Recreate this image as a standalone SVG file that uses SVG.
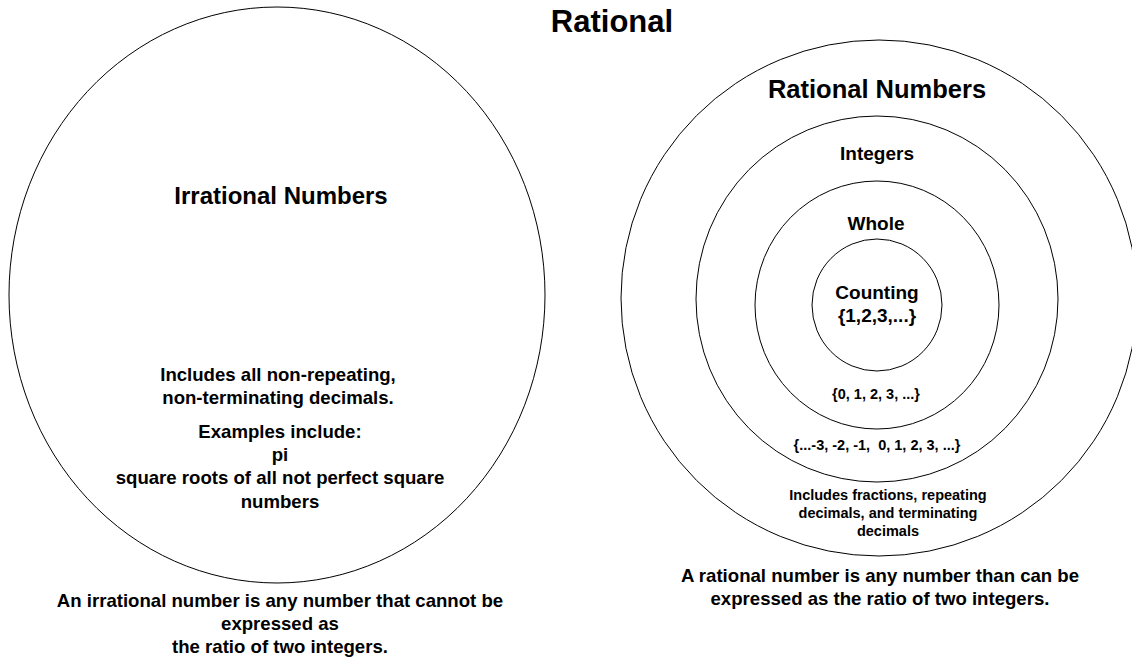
<svg xmlns="http://www.w3.org/2000/svg" width="1132" height="660" viewBox="0 0 1132 660">
<style>
.c{fill:none;stroke:#000;stroke-width:1}
text{font-family:"Liberation Sans",Arial,sans-serif;font-weight:bold;fill:#000;text-anchor:middle}
.t{font-size:31px}
.h{font-size:25.5px}
.m{font-size:19px}
.s{font-size:14.5px;white-space:pre}
.b{font-size:18.6px}
</style>
<rect width="1132" height="660" fill="#fff"/>
<g id="title"><text class="t" x="612" y="32">Rational</text></g>
<g id="irrational">
<ellipse class="c" cx="277" cy="295" rx="268" ry="288"/>
<text class="h" x="281" y="204" style="font-size:24px">Irrational Numbers</text>
<text class="b" x="278" y="381">Includes all non-repeating,</text>
<text class="b" x="278" y="404">non-terminating decimals.</text>
<text class="b" x="280" y="438">Examples include:</text>
<text class="b" x="280" y="461">pi</text>
<text class="b" x="280" y="484">square roots of all not perfect square</text>
<text class="b" x="280" y="508">numbers</text>
</g>
<g id="rational">
<ellipse class="c" cx="879" cy="298" rx="258" ry="258"/>
<text class="h" x="877" y="98">Rational Numbers</text>
<text class="s" x="888" y="500">Includes fractions, repeating</text>
<text class="s" x="888" y="518">decimals, and terminating</text>
<text class="s" x="888" y="536">decimals</text>
</g>
<g id="integers">
<ellipse class="c" cx="877" cy="299" rx="181" ry="183"/>
<text class="m" x="877" y="160">Integers</text>
<text class="s" x="877" y="450">{...-3, -2, -1,  0, 1, 2, 3, ...}</text>
</g>
<g id="whole">
<ellipse class="c" cx="877" cy="305" rx="122" ry="124"/>
<text class="m" x="876" y="230">Whole</text>
<text class="s" x="876" y="399">{0, 1, 2, 3, ...}</text>
</g>
<g id="counting">
<ellipse class="c" cx="877" cy="305" rx="65" ry="66"/>
<text class="m" x="877" y="299">Counting</text>
<text class="m" x="877" y="322">{1,2,3,...}</text>
</g>
<g id="captions">
<text class="b" x="280" y="607">An irrational number is any number that cannot be</text>
<text class="b" x="280" y="630">expressed as</text>
<text class="b" x="280" y="653">the ratio of two integers.</text>
<text class="b" x="880" y="582">A rational number is any number than can be</text>
<text class="b" x="880" y="605">expressed as the ratio of two integers.</text>
</g>
<g id="connectors"></g>
</svg>
